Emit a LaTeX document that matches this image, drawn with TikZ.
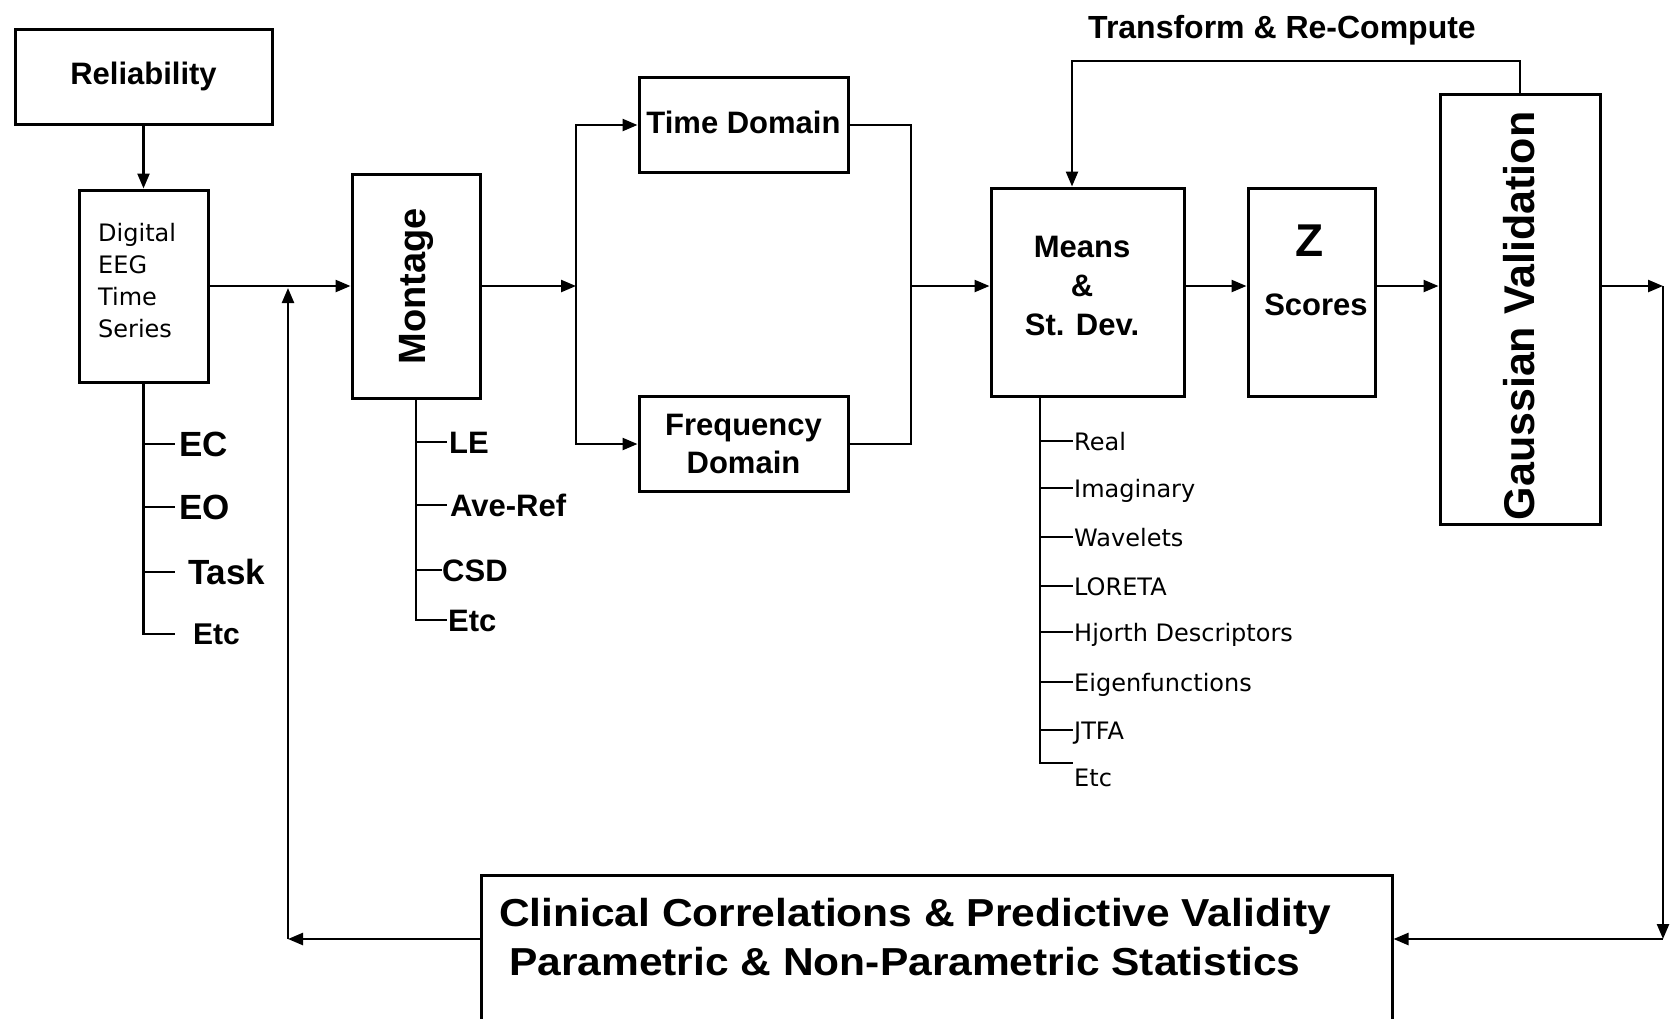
\documentclass[tikz,border=0pt]{standalone}
\usepackage{fontspec}
\setmainfont{Liberation Sans}
\newfontfamily\dvsans{DejaVu Sans}
\usepackage{graphicx}
\usetikzlibrary{arrows.meta}
\newcommand{\hsc}[2]{\scalebox{#1}[1]{#2}}
\newcommand{\fsz}[2]{\fontsize{#1}{#2}\selectfont}
\begin{document}
\begin{tikzpicture}[x=1pt,y=-1pt,
  box/.style={draw,line width=3pt,inner sep=0pt},
  ln/.style={line width=2.4pt},
  arr/.style={line width=2.4pt,-{Triangle[length=15pt,width=12pt]}},
  eegl/.style={anchor=west,inner sep=0pt,font={\fsz{35}{35}\bfseries},text height=25pt,text depth=0pt},
  montl/.style={anchor=west,inner sep=0pt,font={\fsz{31}{31}\bfseries},text height=22pt,text depth=0pt},
  msl/.style={anchor=west,inner sep=0pt,font={\dvsans\fsz{24}{24}},text height=18pt,text depth=0pt}]
\useasboundingbox (0,0) rectangle (1671,1018);
\clip (0,0) rectangle (1671,1018);
\fill[white] (0,0) rectangle (1671,1018);

% boxes
\node[box,minimum width=257pt,minimum height=95pt,font={\fsz{31}{31}\bfseries}] (rel) at (143.5,76.5) {Reliability};
\node[box,minimum width=129pt,minimum height=192pt] (eeg) at (143.5,286) {};
\node[anchor=west,inner sep=0pt,align=left,font={\dvsans\fsz{24}{32}}] (eegt) at (98,281) {Digital\\EEG\\Time\\Series};
\node[box,minimum width=128pt,minimum height=224pt,font={\fsz{38}{38}\bfseries}] (mont) at (416,286) {\rotatebox{90}{Montage}};
\node[box,minimum width=209pt,minimum height=95pt,font={\fsz{31}{31}\bfseries}] (td) at (743.5,125) {\raisebox{5pt}{Time Domain}};
\node[box,minimum width=209pt,minimum height=95pt,align=center,font={\fsz{31}{38}\bfseries}] (fd) at (743.5,444) {Frequency\\Domain};
\node[box,minimum width=193pt,minimum height=208pt] (msd) at (1087.5,292) {};
\node[inner sep=0pt,align=center,font={\fsz{31}{39}\bfseries}] (msdt) at (1082,286) {Means\\\&\\St. Dev.};
\node[box,minimum width=127pt,minimum height=208pt] (zs) at (1311.5,292) {};
\node[font={\fsz{46}{46}\bfseries},inner sep=0pt] (zl) at (1310,241) {Z};
\node[font={\fsz{31}{31}\bfseries},inner sep=0pt] (sc) at (1316,305) {Scores};
\node[box,minimum width=160pt,minimum height=430pt] (gv) at (1520,309) {};
\node[inner sep=0pt,font={\fsz{43}{43}\bfseries}] (gvt) at (1519,316) {\rotatebox{90}{Gaussian Validation}};
\node[box,minimum width=911pt,minimum height=155pt] (clin) at (936.5,952.5) {};
\node[anchor=west,inner sep=0pt,font={\fsz{39}{39}\bfseries},text height=28pt,text depth=0pt] (cl1) at (499,912) {\hsc{1.09}{Clinical Correlations \& Predictive Validity}};
\node[anchor=west,inner sep=0pt,font={\fsz{39}{39}\bfseries},text height=28pt,text depth=0pt] (cl2) at (509,961) {\hsc{1.09}{Parametric \& Non-Parametric Statistics}};
\node[font={\fsz{32}{32}\bfseries},inner sep=0pt] (tr) at (1282,30) {Transform \& Re-Compute};

% list labels
\node[eegl] (ec) at (179,444) {EC};
\node[eegl] (eo) at (179,507) {EO};
\node[eegl] (task) at (188,572) {Task};
\node[eegl,font={\fsz{30}{30}\bfseries},text height=21.5pt] (etca) at (193,634) {Etc};

\node[montl] (le) at (449,442) {LE};
\node[montl] (ave) at (450,505) {Ave-Ref};
\node[montl] (csd) at (442,570) {CSD};
\node[montl] (etcb) at (448,620) {Etc};

\node[msl] (real) at (1074,441) {Real};
\node[msl] (imag) at (1074,488) {Imaginary};
\node[msl] (wav) at (1074,537) {Wavelets};
\node[msl] (lor) at (1074,586) {LORETA};
\node[msl] (hjo) at (1074,632) {Hjorth Descriptors};
\node[msl] (eig) at (1074,682) {Eigenfunctions};
\node[msl] (jtfa) at (1074,730) {JTFA};
\node[msl] (etcc) at (1074,777) {Etc};

% connectors
\coordinate (main) at (0,286);
\draw[arr] (rel) -- (eeg);
\draw[arr] (eeg.east) -- (mont.west);
\coordinate (br) at (576,286);
\draw[arr] (mont.east) -- (br);
\draw[arr] (br) |- (td.west);
\draw[arr] (br) |- (fd.west);
\coordinate (mg) at (911,286);
\draw[ln] (td.east) -| (mg);
\draw[ln] (fd.east) -| (mg);
\draw[arr] (mg) -- (mg -| msd.west);
\draw[arr] (msd.east |- main) -- (zs.west |- main);
\draw[arr] (zs.east |- main) -- (gv.west |- main);
\coordinate (ro) at (1663,286);
\coordinate (rb) at (1663,939);
\draw[arr] (gv.east |- main) -- (ro);
\draw[arr] (ro) -- (rb);
\draw[arr] (rb) -- (clin.east |- rb);
\coordinate (lb) at (288,939);
\coordinate (lt) at (288,288);
\draw[arr] (clin.west |- lb) -- (lb);
\draw[arr] (lb) -- (lt);
\coordinate (ft) at (1072,61);
\draw[arr] (gv.north) |- (ft) -- (ft |- msd.north);

% EEG list
\draw[ln] (eeg.south) -- (eeg.south |- etca.west) -- ++(31,0);
\foreach \n in {ec,eo,task} \draw[ln] (eeg.south |- \n.west) -- ++(31,0);
% Montage list
\draw[ln] (mont.south) -- (mont.south |- etcb.west) -- ++(31,0);
\foreach \n in {le,ave} \draw[ln] (mont.south |- \n.west) -- ++(31,0);
\draw[ln] (mont.south |- csd.west) -- ++(26,0);
% Means list
\coordinate (mtop) at ([xshift=-47.5pt]msd.south);
\coordinate (mbot) at (1040,763);
\draw[ln] (mtop) -- (mbot) -- ++(33,0);
\foreach \n in {real,imag,wav,lor,hjo,eig,jtfa} \draw[ln] (mtop |- \n.west) -- ++(33,0);
\end{tikzpicture}
\end{document}
